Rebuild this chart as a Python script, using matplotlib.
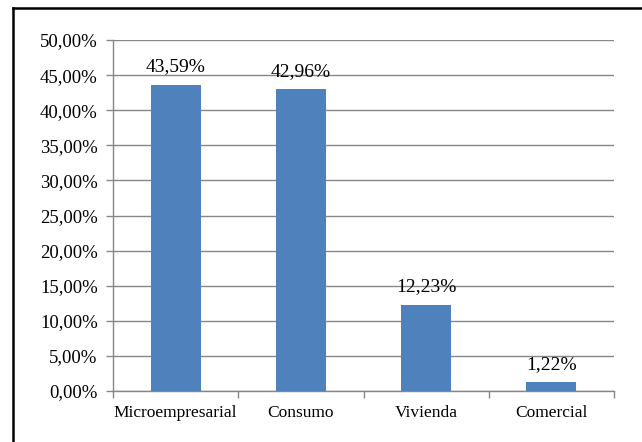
import matplotlib.pyplot as plt
from matplotlib.lines import Line2D
from matplotlib.ticker import FuncFormatter, MultipleLocator

categories = ["Microempresarial", "Consumo", "Vivienda", "Comercial"]
shares = [43.59, 42.96, 12.23, 1.22]
share_labels = ["43,59%", "42,96%", "12,23%", "1,22%"]

BAR_COLOR = "#4F81BD"
GRID_COLOR = "#878787"

plt.rcParams["font.family"] = ["Liberation Serif", "DejaVu Serif"]


def pct_fmt(v, _pos):
    return f"{v:.2f}".replace(".", ",") + "%"


fig = plt.figure(figsize=(6.42, 4.42), dpi=100)
ax = fig.add_axes([113 / 642, 1 - 391 / 442, (614 - 113) / 642, (391 - 40) / 442])

x = list(range(len(categories)))
ax.bar(x, shares, width=0.4, color=BAR_COLOR, zorder=3)

for xi, v, lab in zip(x, shares, share_labels):
    ax.annotate(lab, (xi, v), xytext=(0, 7), textcoords="offset points",
                ha="center", va="bottom", fontsize=14, color="#000000")

ax.set_xlim(-0.5, len(categories) - 0.5)
ax.set_ylim(0, 50)
ax.yaxis.set_major_locator(MultipleLocator(5))
ax.yaxis.set_major_formatter(FuncFormatter(pct_fmt))
ax.grid(axis="y", color=GRID_COLOR, linewidth=1, zorder=0)

# category ticks sit on the boundaries between bars
ax.set_xticks([i - 0.5 for i in range(len(categories) + 1)], minor=False)
ax.set_xticklabels([])
ax.set_xticks(x, minor=True)
ax.set_xticklabels(categories, minor=True, fontsize=12.5)
ax.tick_params(axis="x", which="minor", length=0, pad=10)
ax.tick_params(axis="x", which="major", length=5, color=GRID_COLOR, width=1)
ax.tick_params(axis="y", length=5, color=GRID_COLOR, width=1, labelsize=13.5, pad=6)

for side in ["top", "right"]:
    ax.spines[side].set_visible(False)
for side in ["left", "bottom"]:
    ax.spines[side].set_color(GRID_COLOR)
    ax.spines[side].set_linewidth(1)

# outer frame, left and top edges
fig.add_artist(Line2D([12.5 / 642, 12.5 / 642], [0, 1 - 7.5 / 442], color="black", linewidth=1.8))
fig.add_artist(Line2D([12.5 / 642, 1], [1 - 7.5 / 442, 1 - 7.5 / 442], color="black", linewidth=1.8))

fig.savefig("out.png", dpi=100)
